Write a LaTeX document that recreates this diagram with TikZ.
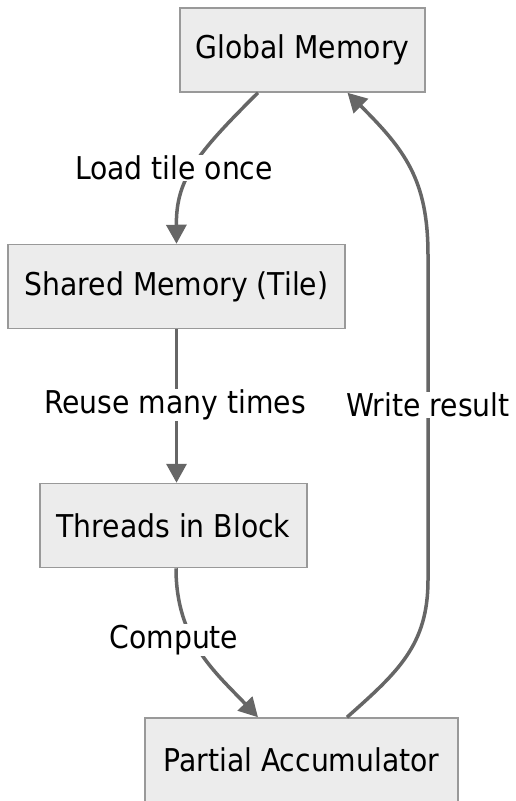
\documentclass[tikz,border=0pt]{standalone}
\usepackage{fontspec}
\setmainfont{DejaVu Sans Condensed}
\usetikzlibrary{arrows.meta}
\definecolor{boxfill}{HTML}{ECECEC}
\definecolor{boxline}{HTML}{999999}
\definecolor{edgecol}{HTML}{666666}
\begin{document}
\begin{tikzpicture}[x=1pt,y=-1pt,
  box/.style={draw=boxline, fill=boxfill, line width=1.5pt, minimum height=84pt,
    inner sep=0pt, font=\fontsize{31.4}{36}\selectfont, text=black},
  edge/.style={draw=edgecol, line width=3.5pt,
    -{Triangle[length=19pt,width=20pt]}},
  lbl/.style={fill=white, inner sep=1pt, font=\fontsize{31.4}{36}\selectfont, text=black}]
\useasboundingbox (0,0) rectangle (515,801);

\node[box, minimum width=245pt] (g) at (302.5,50) {Global Memory};
\node[box, minimum width=337pt] (s) at (176.5,286.5) {Shared Memory (Tile)};
\node[box, minimum width=267pt] (t) at (173.5,525.5) {Threads in Block};
\node[box, minimum width=313pt] (p) at (301.5,760) {Partial Accumulator};

% global -> shared
\draw[edge] ([xshift=-44.5pt]g.south) .. controls (195,155) and (176,180) .. (s.north);
\node[lbl] (l1) at (174,168) {Load tile once};

% shared -> threads
\draw[edge] (s.south) -- (s.south |- t.north);
\node[lbl] (l2) at (175,405) {Reuse many times};

% threads -> partial
\draw[edge] ([xshift=2.5pt]t.south) .. controls (176,640) and (215,672) .. ([xshift=-43.5pt]p.north);
\node[lbl] (l3) at (174,640) {Compute};

% partial -> global
\draw[edge] ([xshift=45.5pt]p.north) .. controls (398,672) and (428,645) .. (428,580)
  -- (428,255) .. controls (428,180) and (405,150) .. ([xshift=45pt]g.south);
\node[lbl] (l4) at (428,405) {Write result};
\end{tikzpicture}
\end{document}
